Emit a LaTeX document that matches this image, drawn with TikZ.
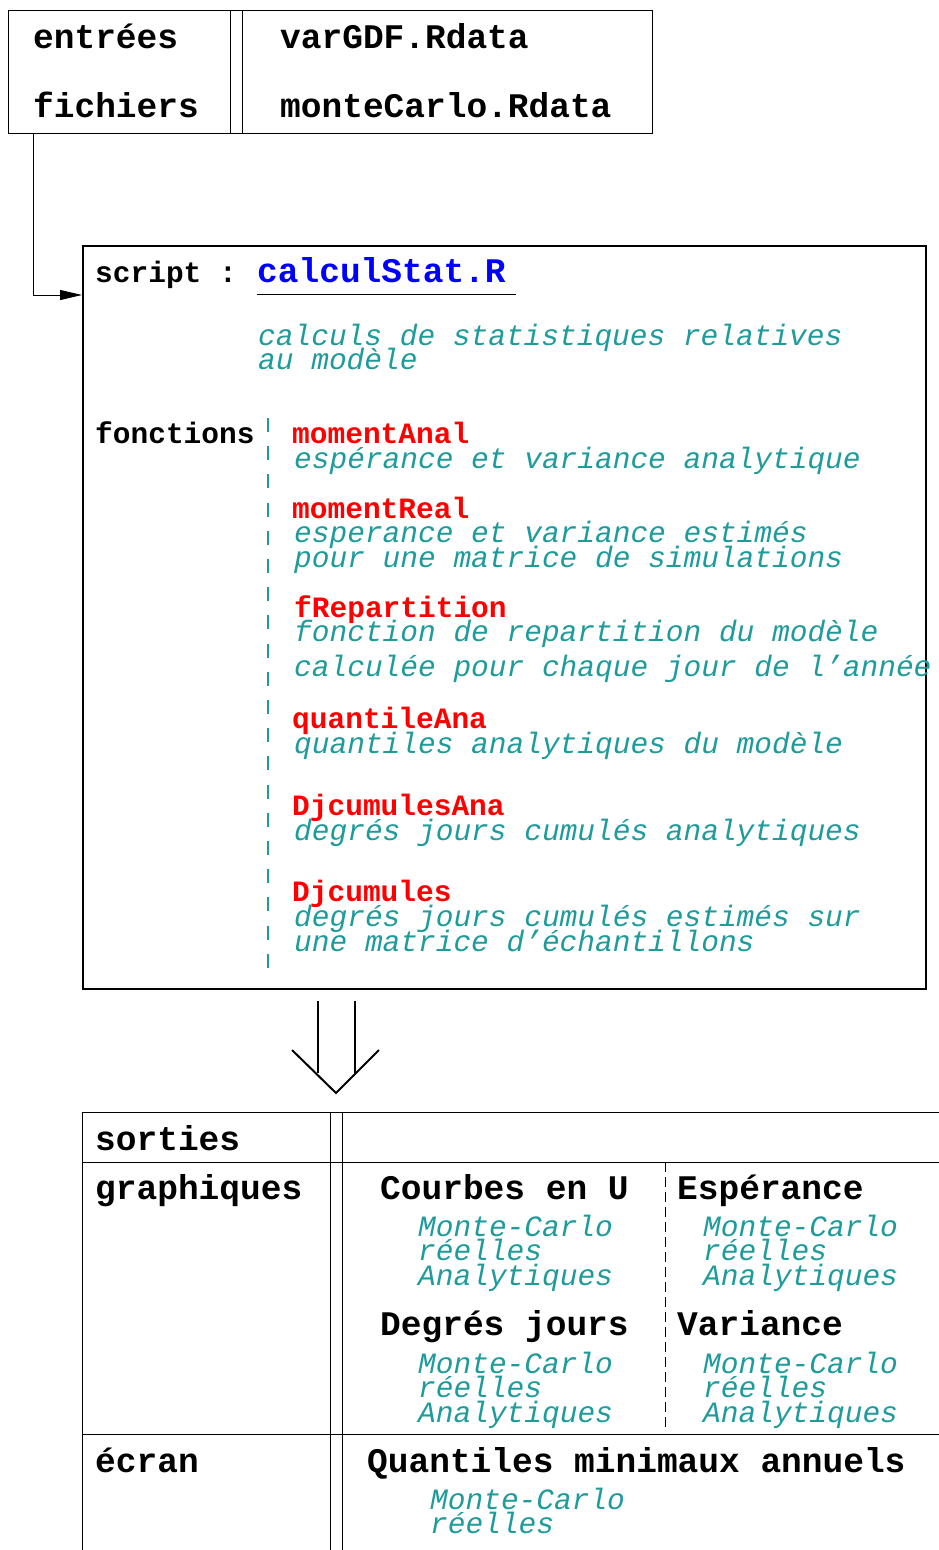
\documentclass[tikz,border=0pt]{standalone}
\usepackage{fontspec}
\newfontfamily\cour{Liberation Mono}
\usetikzlibrary{arrows.meta}
\definecolor{tealc}{RGB}{30,155,155}
\definecolor{bluec}{RGB}{0,0,255}
\definecolor{redc}{RGB}{255,0,0}
\tikzset{
  lbl/.style={anchor=base west, inner sep=0pt, font=\cour\bfseries\fontsize{34.5}{36}\selectfont},
  lbls/.style={anchor=base west, inner sep=0pt, font=\cour\bfseries\fontsize{29.5}{30}\selectfont},
  fn/.style={lbls, text=redc},
  desc/.style={anchor=base west, inner sep=0pt, font=\cour\itshape\fontsize{29.5}{30}\selectfont, text=tealc},
  thin/.style={line width=1pt},
  frame/.style={draw, line width=2pt, inner sep=0pt, anchor=north west},
}
\begin{document}
\begin{tikzpicture}[x=1pt,y=-1pt]
\useasboundingbox[fill=white] (0,0) rectangle (939,1550);
% input box
\node[draw, thin, inner sep=0pt, anchor=north west, minimum width=644pt, minimum height=123pt] (inbox) at (8,10) {};
\draw[thin] (230,10) -- (230,133) (242,10) -- (242,133);
\node[lbl] (entrees) at (33,48) {entrées};
\node[lbl] (fichiers) at (33,117) {fichiers};
\node[lbl] (vargdf) at (280,48) {varGDF.Rdata};
\node[lbl] (montec) at (280,117) {monteCarlo.Rdata};
% script box
\node[frame, minimum width=843pt, minimum height=743pt] (script) at (82,245) {};
\coordinate (cstart) at (33,133);
\coordinate (cend) at (82,295);
\draw[thin, -{Triangle[length=22pt,width=10pt]}] (cstart) |- (cend);
\node[lbls] (scriptlbl) at (95,282) {script :};
\node[lbl, text=bluec] (calc) at (257,282) {calculStat.R};
\draw[thin] (257,294) -- (516,294);
\node[desc] (d0a) at (258,345) {calculs de statistiques relatives};
\node[desc] (d0b) at (258,369) {au modèle};
\node[lbls] (fonctions) at (95,443) {fonctions};
\draw[tealc, line width=2pt, dash pattern=on 14pt off 14.2pt] (268,418) -- (268,968);
\node[fn] (f1) at (292,443) {momentAnal};
\node[desc] (f1a) at (294,468) {espérance et variance analytique};
\node[fn] (f2) at (292,518) {momentReal};
\node[desc] (f2a) at (294,542) {esperance et variance estimés};
\node[desc] (f2b) at (294,567) {pour une matrice de simulations};
\node[fn] (f3) at (294,617) {fRepartition};
\node[desc] (f3a) at (294,641) {fonction de repartition du modèle};
\node[desc] (f3b) at (294,676) {calculée pour chaque jour de l’année};
\node[fn] (f4) at (292,728) {quantileAna};
\node[desc] (f4a) at (294,753) {quantiles analytiques du modèle};
\node[fn] (f5) at (292,815) {DjcumulesAna};
\node[desc] (f5a) at (294,840) {degrés jours cumulés analytiques};
\node[fn] (f6) at (292,901) {Djcumules};
\node[desc] (f6a) at (294,926) {degrés jours cumulés estimés sur};
\node[desc] (f6b) at (294,951) {une matrice d’échantillons};
% big arrow
\draw[line width=2pt] (318,1001) -- (318,1073) (355,1001) -- (355,1073);
\draw[line width=2pt] (292,1050) -- (336,1093) -- (379,1050);
% output table
\draw[thin] (82,1112) -- (939,1112) (82,1162) -- (939,1162) (82,1434) -- (939,1434);
\draw[thin] (82,1112) -- (82,1550) (330,1112) -- (330,1550) (342,1112) -- (342,1550);
\draw[thin, dash pattern=on 10pt off 5pt] (665,1162) -- (665,1430);
\node[lbl] (sorties) at (95,1150) {sorties};
\node[lbl] (graph) at (95,1199) {graphiques};
\node[lbl] (ecran) at (95,1472) {écran};
\node[lbl] (courbes) at (380,1199) {Courbes en U};
\node[desc] (c1) at (418,1236) {Monte-Carlo};
\node[desc] (c2) at (418,1260) {réelles};
\node[desc] (c3) at (418,1285) {Analytiques};
\node[lbl] (degres) at (380,1335) {Degrés jours};
\node[desc] (g1) at (418,1373) {Monte-Carlo};
\node[desc] (g2) at (418,1397) {réelles};
\node[desc] (g3) at (418,1422) {Analytiques};
\node[lbl] (esper) at (677,1199) {Espérance};
\node[desc] (e1) at (703,1236) {Monte-Carlo};
\node[desc] (e2) at (703,1260) {réelles};
\node[desc] (e3) at (703,1285) {Analytiques};
\node[lbl] (varia) at (677,1335) {Variance};
\node[desc] (v1) at (703,1373) {Monte-Carlo};
\node[desc] (v2) at (703,1397) {réelles};
\node[desc] (v3) at (703,1422) {Analytiques};
\node[lbl] (quant) at (367,1472) {Quantiles minimaux annuels};
\node[desc] (q1) at (430,1509) {Monte-Carlo};
\node[desc] (q2) at (430,1533) {réelles};
\end{tikzpicture}
\end{document}
